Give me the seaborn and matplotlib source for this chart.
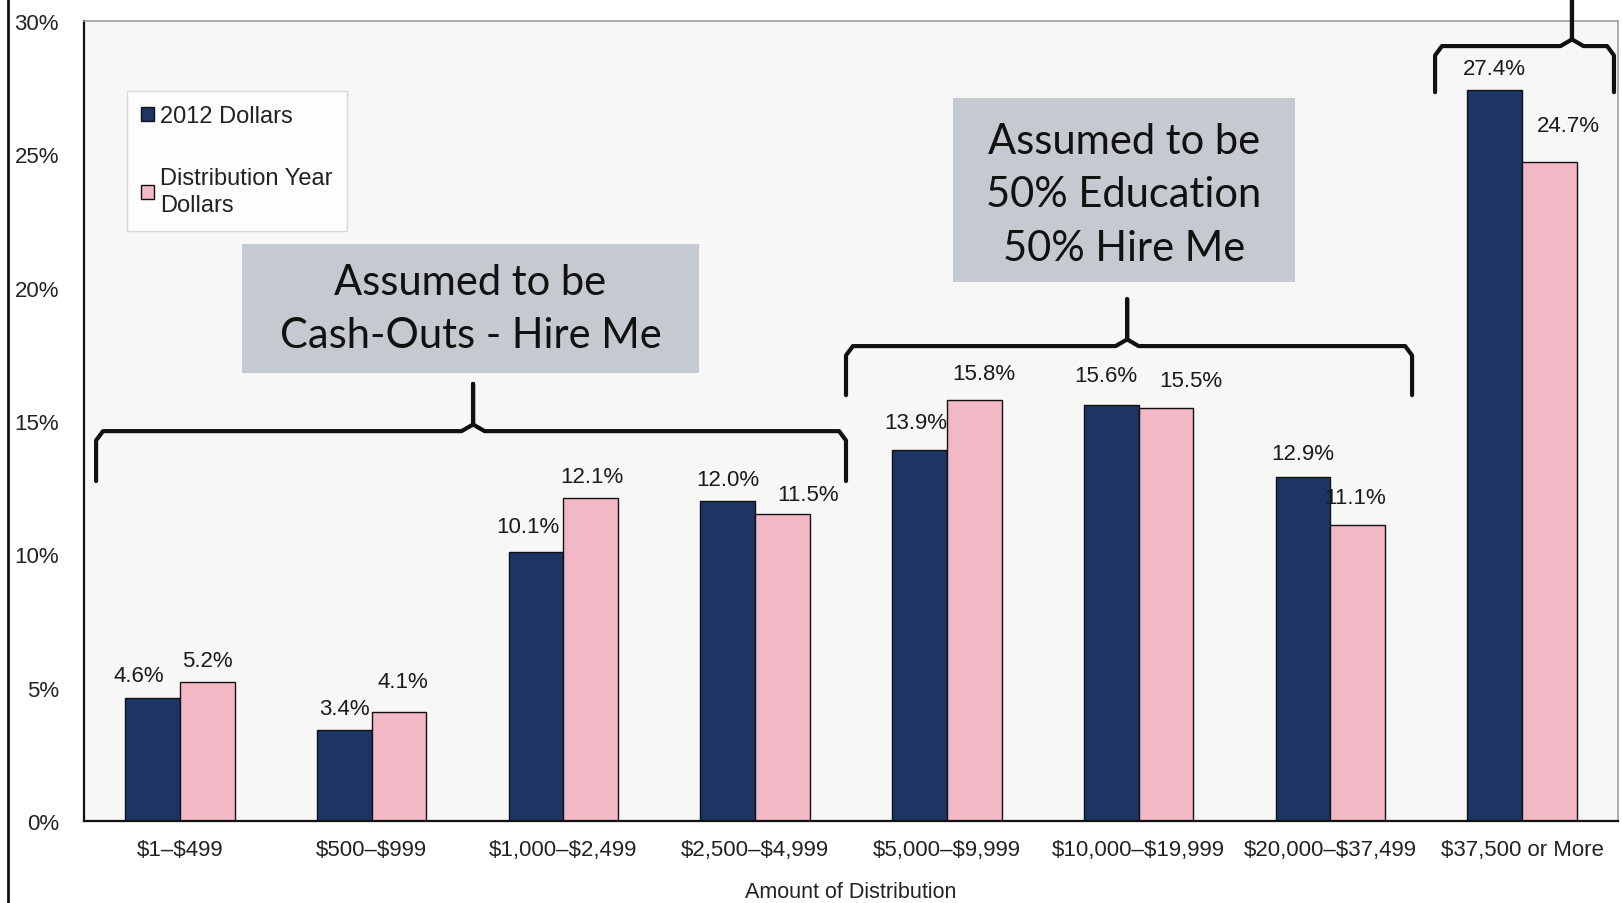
import matplotlib
matplotlib.use("Agg")
import matplotlib.pyplot as plt
import seaborn as sns
import pandas as pd
from matplotlib.lines import Line2D
from matplotlib.patches import Rectangle

categories = ["$1\u2013$499", "$500\u2013$999", "$1,000\u2013$2,499", "$2,500\u2013$4,999",
              "$5,000\u2013$9,999", "$10,000\u2013$19,999", "$20,000\u2013$37,499", "$37,500 or More"]
series_names = ["2012 Dollars", "Distribution Year\nDollars"]
dollars_2012 = [4.6, 3.4, 10.1, 12.0, 13.9, 15.6, 12.9, 27.4]
dollars_dist_year = [5.2, 4.1, 12.1, 11.5, 15.8, 15.5, 11.1, 24.7]
y_ticks = [0, 5, 10, 15, 20, 25, 30]
x_label = "Amount of Distribution"

navy = "#1d3564"
pink = "#f3b8c6"

df = pd.DataFrame({
    "cat": categories * 2,
    "series": [series_names[0]] * len(categories) + [series_names[1]] * len(categories),
    "val": dollars_2012 + dollars_dist_year,
})

sns.set_style("white")
plt.rcParams["font.family"] = ["Liberation Sans", "DejaVu Sans"]
plt.rcParams["text.parse_math"] = False

fig = plt.figure(figsize=(16.22, 9.04), dpi=100)
fig.patch.set_facecolor("white")
ax = fig.add_axes([84 / 1622, 1 - 822 / 904, 1534 / 1622, 800 / 904])
ax.set_facecolor("#f7f7f7")

sns.barplot(data=df, x="cat", y="val", hue="series", palette=[navy, pink],
            width=0.57, edgecolor="#111111", linewidth=1.0, ax=ax, legend=True,
            saturation=1)

ax.set_xlim(-0.5, 7.5)
ax.set_ylim(0, 30)
ax.set_yticks(y_ticks)
ax.set_yticklabels([f"{t}%" for t in y_ticks])
ax.tick_params(axis="y", length=4, width=1, color="#555555", labelsize=16, pad=14, labelcolor="#222222")
ax.tick_params(axis="x", length=0, labelsize=16, pad=13, labelcolor="#222222")
ax.set_xlabel(x_label, fontsize=15.5, color="#222222", labelpad=15)
ax.set_ylabel("")

for s in ["left", "bottom"]:
    ax.spines[s].set_color("#111111")
    ax.spines[s].set_linewidth(1.6)
for s in ["top", "right"]:
    ax.spines[s].set_color("#a0a0a0")
    ax.spines[s].set_linewidth(1.2)
    ax.spines[s].set_visible(True)

# value labels
offsets_2012 = [(-14, 23), (0, 22), (-8, 25), (0, 22), (-4, 28), (-5, 29), (0, 23), (0, 22)]
offsets_dist = [(0, 22), (4, 30), (1, 22), (26, 20), (10, 26), (25, 27), (-3, 27), (19, 37)]
for container, vals, offs in zip(ax.containers, [dollars_2012, dollars_dist_year], [offsets_2012, offsets_dist]):
    for patch, v, (dx, dy) in zip(container.patches, vals, offs):
        cx = patch.get_x() + patch.get_width() / 2
        ax.annotate(f"{v:.1f}%", (cx, patch.get_height()), xytext=(dx, dy),
                    textcoords="offset pixels", ha="center", va="center",
                    fontsize=16, color="#1a1a1a")

# legend
leg = ax.legend(loc="upper left", bbox_to_anchor=(127 / 1622, 1 - 92 / 904),
                bbox_transform=fig.transFigure, frameon=True, fancybox=False,
                fontsize=17, handlelength=0.55, handleheight=0.55, handletextpad=0.25,
                labelspacing=1.7, borderpad=0.6, borderaxespad=0)
leg.get_frame().set_edgecolor("#d0d0d0")
leg.get_frame().set_facecolor("white")
leg.get_frame().set_linewidth(1)
for t in leg.get_texts():
    t.set_color("#222222")
    t.set_linespacing(1.3)

# annotation boxes
box_color = "#c4cacf"
ax.add_patch(Rectangle((0.324, 16.80), 2.707 - 0.324, 21.63 - 16.80, facecolor=box_color,
                       edgecolor="none", zorder=5))
ax.text((0.324 + 2.707) / 2, (21.63 + 16.80) / 2, "Assumed to be\nCash-Outs - Hire Me",
        ha="center", va="center", fontsize=30, family=["Lato", "DejaVu Sans"],
        color="#111111", linespacing=1.5, zorder=6)
ax.add_patch(Rectangle((4.032, 20.21), 5.816 - 4.032, 27.11 - 20.21, facecolor=box_color,
                       edgecolor="none", zorder=5))
ax.text((4.032 + 5.816) / 2, (27.11 + 20.21) / 2 - 0.15, "Assumed to be\n50% Education\n50% Hire Me",
        ha="center", va="center", fontsize=30, family=["Lato", "DejaVu Sans"],
        color="#111111", linespacing=1.5, zorder=6)

# curly brackets
def bracket(x0, x1, xp, y_end, y_h, y_peak):
    r = 0.06
    xs = [x0, x0, x0 + r * 0.6, xp - r, xp, xp, xp, xp + r, x1 - r * 0.6, x1, x1]
    ys = [y_end, y_h - 0.35, y_h, y_h, y_h + 0.25, y_peak, y_h + 0.25, y_h, y_h, y_h - 0.35, y_end]
    ax.plot(xs, ys, color="#111111", lw=3, solid_joinstyle="round", solid_capstyle="round",
            clip_on=False, zorder=7)

bracket(-0.437, 3.474, 1.529, 12.75, 14.62, 16.39)
bracket(3.474, 6.426, 4.94, 15.97, 17.81, 19.57)
bracket(6.546, 7.479, 7.26, 27.33, 29.06, 31.2)

# scan border line at left
fig.add_artist(Line2D([8 / 1622, 8 / 1622], [0, 1], transform=fig.transFigure,
                      color="#111111", lw=2))

fig.savefig("out.png", dpi=100, facecolor="white")
